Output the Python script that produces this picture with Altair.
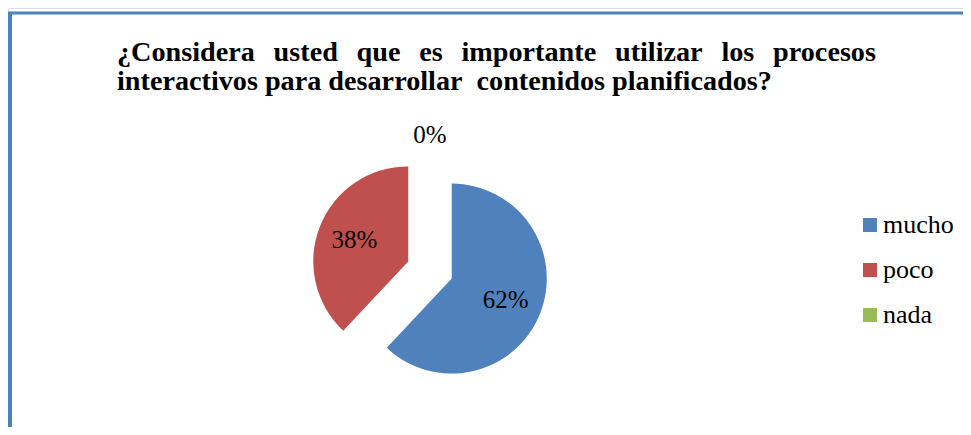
import math
import altair as alt
import pandas as pd

categories = ["mucho", "poco", "nada"]
values = [62, 38, 0]
colors = ["#4F81BD", "#C0504D", "#9BBB59"]
GAP = "\u00a0\u00a0\u2006"
title_words = ["¿Considera", "usted", "que", "es", "importante", "utilizar", "los", "procesos"]
title_lines = [
    GAP.join(title_words),
    "interactivos para desarrollar\u00a0 contenidos planificados?",
]

W, H = 955, 419
CX, CY = 422, 262
R = 95
EXPLODE = 23.4
FONT = "Liberation Serif"
FRAME = "#4F81BD"

df = pd.DataFrame({"cat": categories, "value": values})

base = alt.Chart(df).transform_window(
    cum="sum(value)", frame=[None, 0]
).transform_joinaggregate(
    total="sum(value)"
).transform_calculate(
    start="(datum.cum - datum.value) / datum.total",
    end="datum.cum / datum.total",
    pct="datum.value / datum.total",
).transform_calculate(
    mid="(datum.start + datum.end) / 2",
).transform_calculate(
    cx=f"{CX} + {EXPLODE} * sin(2 * PI * datum.mid)",
    cy=f"{CY} - {EXPLODE} * cos(2 * PI * datum.mid)",
    lr=f"datum.value == 0 ? {R + 17} : 58",
)

angle_scale = alt.Scale(domain=[0, 1], range=[0, 2 * math.pi])

arcs = base.mark_arc(radius=R, strokeWidth=0).encode(
    x=alt.X("cx:Q", scale=None),
    y=alt.Y("cy:Q", scale=None),
    theta=alt.Theta("start:Q", scale=angle_scale, stack=None),
    theta2="end:Q",
    color=alt.Color(
        "cat:N",
        scale=alt.Scale(domain=categories, range=colors),
        legend=alt.Legend(
            title=None,
            orient="none",
            legendX=849,
            legendY=204,
            symbolType="square",
            symbolSize=196,
            symbolStrokeWidth=0,
            labelFont=FONT,
            labelFontSize=26,
            labelColor="black",
            labelOffset=0,
            rowPadding=19,
            labelLimit=200,
        ),
    ),
)

labels = base.mark_text(font=FONT, fontSize=25, color="black", align="center", baseline="middle").encode(
    x=alt.X("cx:Q", scale=None),
    y=alt.Y("cy:Q", scale=None),
    theta=alt.Theta("mid:Q", scale=angle_scale, stack=None),
    radius=alt.Radius("lr:Q", scale=None),
    text=alt.Text("pct:Q", format=".0%"),
)

tdf = pd.DataFrame({"line": title_lines, "row": list(range(len(title_lines)))})
title = alt.Chart(tdf).mark_text(
    font=FONT, fontSize=28.2, fontWeight="bold", align="left", baseline="alphabetic", color="black"
).encode(
    x=alt.value(109),
    y=alt.Y("row:Q", scale=alt.Scale(domain=[0, 1], range=[53, 82]), axis=None),
    text="line:N",
)

frame_top = alt.Chart(pd.DataFrame({"k": [0]})).mark_rule(color=FRAME, strokeWidth=3).encode(
    x=alt.value(-1), x2=alt.value(W), y=alt.value(5)
)
frame_left = alt.Chart(pd.DataFrame({"k": [0]})).mark_rule(color=FRAME, strokeWidth=5).encode(
    x=alt.value(1.5), y=alt.value(4), y2=alt.value(H)
)

chart = alt.layer(frame_top, frame_left, title, arcs, labels).properties(
    width=W, height=H, autosize=alt.AutoSizeParams(type="none"), padding=0
).resolve_scale(y="independent").configure_view(strokeWidth=0, strokeOpacity=0).configure(background="white")

chart.save("out.html", embed_options={"renderer": "svg", "actions": False})
